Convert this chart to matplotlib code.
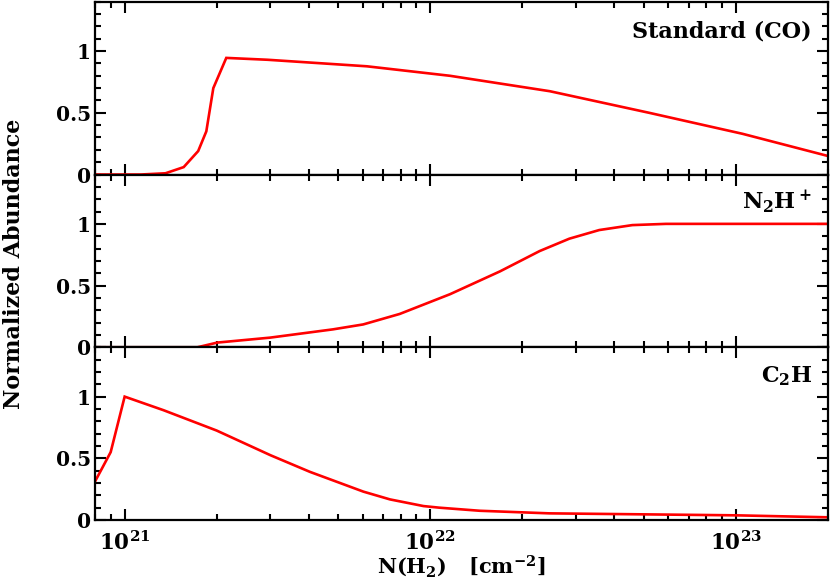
import matplotlib
matplotlib.use("Agg")
import matplotlib.pyplot as plt
from matplotlib.ticker import LogLocator, MultipleLocator, FixedLocator, FixedFormatter

plt.rcParams['font.family'] = ['DejaVu Serif']
plt.rcParams['font.weight'] = 'bold'
plt.rcParams['mathtext.fontset'] = 'custom'
plt.rcParams['mathtext.rm'] = 'DejaVu Serif:bold'
plt.rcParams['mathtext.it'] = 'DejaVu Serif:bold'
plt.rcParams['mathtext.bf'] = 'DejaVu Serif:bold'
plt.rcParams['mathtext.default'] = 'bf'

# column density N(H2) [cm^-2] and normalized abundances
co_n = [8.0e20, 1.13e21, 1.36e21, 1.56e21, 1.74e21, 1.85e21, 1.95e21, 2.15e21,
        2.93e21, 6.2e21, 1.16e22, 2.46e22, 3.39e22, 5.2e22, 1.05e23, 2.0e23]
co_y = [0.0, 0.0, 0.01, 0.06, 0.19, 0.35, 0.70, 0.945,
        0.93, 0.877, 0.80, 0.675, 0.60, 0.50, 0.33, 0.15]

n2h_n = [8.0e20, 1.73e21, 2.01e21, 2.99e21, 4.8e21, 6.03e21, 7.94e21, 1.16e22,
         1.69e22, 2.28e22, 2.85e22, 3.57e22, 4.58e22, 5.9e22, 2.0e23]
n2h_y = [0.0, 0.0, 0.038, 0.078, 0.145, 0.185, 0.27, 0.43,
         0.615, 0.78, 0.88, 0.95, 0.99, 1.0, 1.0]

c2h_n = [8.03e20, 9.0e20, 1.0e21, 1.34e21, 2.0e21, 3.0e21, 4.04e21, 4.94e21,
         6.04e21, 7.38e21, 9.5e21, 1.07e22, 1.45e22, 2.45e22, 1.0e23, 2.0e23]
c2h_y = [0.32, 0.55, 1.0, 0.89, 0.725, 0.525, 0.39, 0.31,
         0.23, 0.167, 0.113, 0.10, 0.075, 0.054, 0.038, 0.022]

labels = ['Standard (CO)', r'N$_2$H$^+$', r'C$_2$H']

fig, axes = plt.subplots(3, 1, sharex=True, figsize=(8.3, 5.86), dpi=100)
fig.subplots_adjust(left=0.1145, right=0.9976, top=0.997, bottom=0.1126, hspace=0)

series = [(co_n, co_y), (n2h_n, n2h_y), (c2h_n, c2h_y)]
for ax, (n, y), lab in zip(axes, series, labels):
    ax.plot(n, y, color='red', lw=1.9, solid_joinstyle='miter')
    ax.set_xscale('log')
    ax.set_xlim(8.0e20, 2.0e23)
    ax.set_ylim(0, 1.4)
    ax.yaxis.set_major_locator(FixedLocator([0, 0.5, 1]))
    ax.yaxis.set_major_formatter(FixedFormatter(['0', '0.5', '1']))
    ax.yaxis.set_minor_locator(MultipleLocator(0.1))
    ax.xaxis.set_major_locator(LogLocator(base=10))
    ax.xaxis.set_minor_locator(LogLocator(base=10, subs=range(2, 10)))
    ax.tick_params(which='both', direction='in', top=True, right=True, width=1.5)
    ax.tick_params(which='major', length=8, labelsize=14.5, pad=3)
    ax.tick_params(which='minor', length=4.5)
    for s in ax.spines.values():
        s.set_linewidth(1.6)
    ax.text(0.978, 0.795, lab, transform=ax.transAxes, ha='right', va='baseline',
            fontsize=16, fontweight='bold')

axes[0].tick_params(labelbottom=False)
axes[1].tick_params(labelbottom=False)
axes[2].tick_params(axis='x', which='major', pad=8.5, labelsize=15.5)
axes[2].set_xlabel(r'N(H$_2$)   [cm$^{-2}$]', fontsize=15, fontweight='bold', labelpad=-1.5)
fig.text(0.017, 0.55, 'Normalized Abundance', rotation=90, ha='center', va='center',
         fontsize=16, fontweight='bold')

fig.savefig('out.png', dpi=100)
